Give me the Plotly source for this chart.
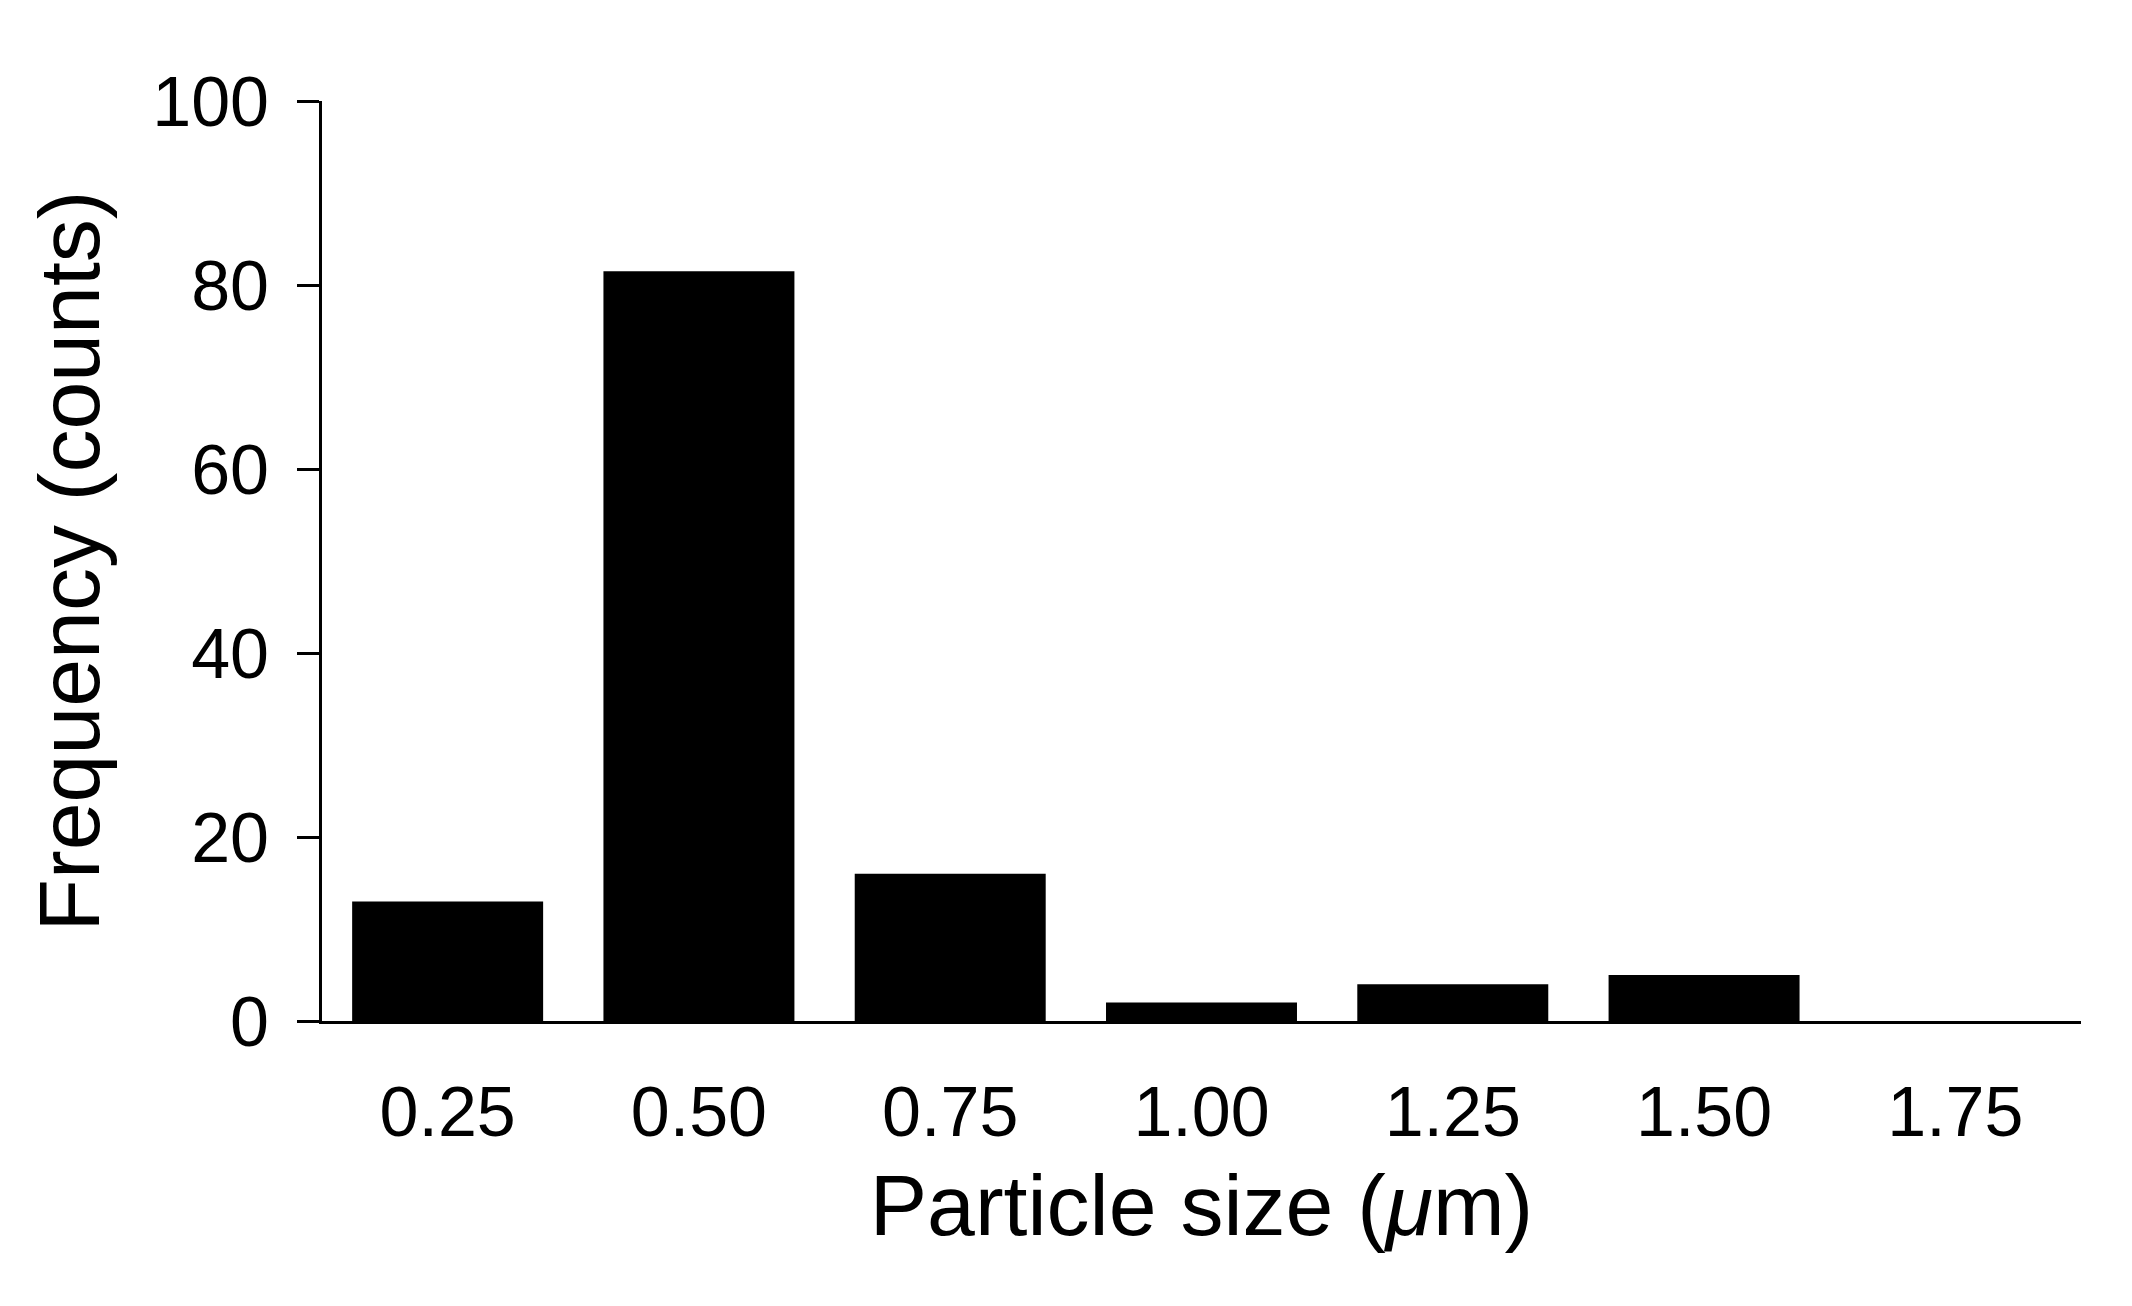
import plotly.graph_objects as go

sizes = ['0.25', '0.50', '0.75', '1.00', '1.25', '1.50', '1.75']
counts = [13, 81.5, 16, 2, 4, 5, 0]

fig = go.Figure(go.Bar(x=sizes, y=counts, marker_color='black', marker_line_width=0))

fig.update_layout(
    width=2132, height=1306,
    plot_bgcolor='white', paper_bgcolor='white',
    margin=dict(l=314, r=59, t=93, b=293),
    bargap=0.24,
    font=dict(family='Liberation Sans, Arial', color='black'),
    showlegend=False,
)
fig.update_xaxes(
    type='category', range=[-0.5, 6.5],
    showline=True, linecolor='black', linewidth=3,
    ticks='', showgrid=False,
    tickfont=dict(size=70), ticklabelstandoff=28,
    title=dict(text='Particle size (<i>μ</i>m)', font=dict(size=86), standoff=25),
)
fig.update_yaxes(
    range=[0, 100], dtick=20,
    showline=True, linecolor='black', linewidth=3,
    ticks='outside', ticklen=22, tickwidth=3, tickcolor='black',
    showgrid=False, zeroline=False,
    tickfont=dict(size=70), ticklabelstandoff=14,
    title=dict(text='Frequency (counts)', font=dict(size=86), standoff=25),
)

fig.write_html("out.html")
